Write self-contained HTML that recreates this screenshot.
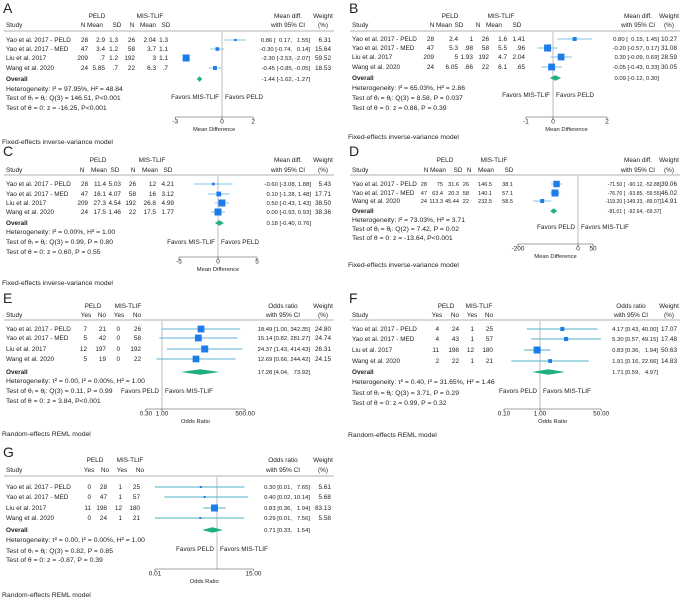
<!DOCTYPE html>
<html><head><meta charset="utf-8"><style>
body{margin:0;background:#fff}
svg{display:block;font-family:"Liberation Sans",Arial,sans-serif}
text{font-size:6.4px;fill:#222}
</style></head><body>
<svg id="fig" width="692" height="599" viewBox="0 0 692 599"></svg>
<script>
// ---------- DATA ----------
const studies4 = ["Yao et al. 2017 - PELD","Yao et al. 2017 - MED","Liu et al. 2017","Wang et al. 2020"];
const studiesD = ["Yao et al. 2017 - PELD","Yao et al. 2017 - MED","Wang et al. 2020"];

const tableA = [["28","2.9","1.3","26","2.04","1.3"],["47","3.4","1.2","58","3.7","1.1"],["209",".7","1.2","192","3","1.1"],["24","5.85",".7","22","6.3",".7"]];
const estA = [0.86,-0.30,-2.30,-0.45];
const loA = [0.17,-0.74,-2.53,-0.85];
const hiA = [1.55,0.14,-2.07,-0.05];
const wA = [6.31,15.64,59.52,18.53];
const overallA = [-1.44,-1.62,-1.27];
const statsA = ["Heterogeneity: I\u00B2 = 97.95%, H\u00B2 = 48.84","Test of \u03B8\u1D62 = \u03B8\u2C7C: Q(3) = 146.51, P<0.001","Test of \u03B8 = 0: z = -16.25, P<0.001"];
const ticksA = [-3,0,2];

const tableB = [["28","2.4","1","26","1.6","1.41"],["47","5.3",".98","58","5.5",".96"],["209","5","1.93","192","4.7","2.04"],["24","6.05",".66","22","6.1",".65"]];
const estB = [0.80,-0.20,0.30,-0.05];
const loB = [0.15,-0.57,-0.09,-0.43];
const hiB = [1.45,0.17,0.69,0.33];
const wB = [10.27,31.08,28.59,30.05];
const overallB = [0.09,-0.12,0.30];
const statsB = ["Heterogeneity: I\u00B2 = 65.03%, H\u00B2 = 2.86","Test of \u03B8\u1D62 = \u03B8\u2C7C: Q(3) = 8.58, P = 0.037","Test of \u03B8 = 0: z = 0.86, P = 0.39"];
const ticksB = [-1,0,2];

const tableC = [["28","11.4","5.03","26","12","4.21"],["47","16.1","4.07","58","16","3.12"],["209","27.3","4.54","192","26.8","4.99"],["24","17.5","1.46","22","17.5","1.77"]];
const estC = [-0.60,0.10,0.50,0.00];
const loC = [-3.08,-1.28,-0.43,-0.93];
const hiC = [1.88,1.48,1.43,0.93];
const wC = [5.43,17.71,38.50,38.36];
const overallC = [0.18,-0.40,0.76];
const statsC = ["Heterogeneity: I\u00B2 = 0.00%, H\u00B2 = 1.00","Test of \u03B8\u1D62 = \u03B8\u2C7C: Q(3) = 0.99, P = 0.80","Test of \u03B8 = 0: z = 0.60, P = 0.55"];
const ticksC = [-5,0,5];

const tableD = [["28","75","31.6","26","146.5","38.1"],["47","63.4","20.3","58","140.1","57.1"],["24","113.3","45.44","22","232.5","58.5"]];
const estD = [-71.50,-76.70,-119.20];
const loD = [-90.12,-93.85,-149.33];
const hiD = [-52.88,-59.55,-89.07];
const wD = [39.06,46.02,14.91];
const overallD = [-81.01,-92.64,-69.37];
const statsD = ["Heterogeneity: I\u00B2 = 73.03%, H\u00B2 = 3.71","Test of \u03B8\u1D62 = \u03B8\u2C7C: Q(2) = 7.42, P = 0.02","Test of \u03B8 = 0: z = -13.64, P<0.001"];
const ticksD = [-200,0,50];

const tableE = [["7","21","0","26"],["5","42","0","58"],["12","197","0","192"],["5","19","0","22"]];
const estE = [18.49,15.14,24.37,12.69];
const loE = [1.00,0.82,1.43,0.66];
const hiE = [342.35,281.27,414.43,244.42];
const wE = [24.80,24.74,26.31,24.15];
const overallE = [17.28,4.04,73.92];
const statsE = ["Heterogeneity: \u03C4\u00B2 = 0.00, I\u00B2 = 0.00%, H\u00B2 = 1.00","Test of \u03B8\u1D62 = \u03B8\u2C7C: Q(3) = 0.11, P = 0.99","Test of \u03B8 = 0: z = 3.84, P<0.001"];
const ticksE = [0.30,1.00,500.00];

const tableF = [["4","24","1","25"],["4","43","1","57"],["11","198","12","180"],["2","22","1","21"]];
const estF = [4.17,5.30,0.83,1.91];
const loF = [0.43,0.57,0.36,0.16];
const hiF = [40.00,49.15,1.94,22.66];
const wF = [17.07,17.48,50.63,14.83];
const overallF = [1.71,0.59,4.97];
const statsF = ["Heterogeneity: \u03C4\u00B2 = 0.40, I\u00B2 = 31.65%, H\u00B2 = 1.46","Test of \u03B8\u1D62 = \u03B8\u2C7C: Q(3) = 3.71, P = 0.29","Test of \u03B8 = 0: z = 0.99, P = 0.32"];
const ticksF = [0.10,1.00,50.00];

const tableG = [["0","28","1","25"],["0","47","1","57"],["11","198","12","180"],["0","24","1","21"]];
const estG = [0.30,0.40,0.83,0.29];
const loG = [0.01,0.02,0.36,0.01];
const hiG = [7.65,10.14,1.94,7.56];
const wG = [5.61,5.68,83.13,5.58];
const overallG = [0.71,0.33,1.54];
const statsG = ["Heterogeneity: \u03C4\u00B2 = 0.00, I\u00B2 = 0.00%, H\u00B2 = 1.00","Test of \u03B8\u1D62 = \u03B8\u2C7C: Q(3) = 0.82, P = 0.85","Test of \u03B8 = 0: z = -0.87, P = 0.39"];
const ticksG = [0.01,15.00];

// ---------- DRAWING ----------
const NS = "http://www.w3.org/2000/svg";
const svg = document.getElementById("fig");
function mk(tag, attrs, parent, txt){
  const e = document.createElementNS(NS, tag);
  for (const k in attrs) e.setAttribute(k, attrs[k]);
  if (txt !== undefined) e.textContent = txt;
  (parent || svg).appendChild(e);
  return e;
}
function txt(g, x, y, s, anchor, extra){
  const a = {x:x, y:y+2.2, "text-anchor":anchor||"start"};
  if (extra) Object.assign(a, extra);
  return mk("text", a, g, s);
}
function f2(v){ return v.toFixed(2); }
const FS = "\u2007";
function pad(s, n){ while (s.length < n) s = FS + s; return s; }

function panel(cfg){
  const g = mk("g", {transform:`translate(${cfg.ox},${cfg.oy})`});
  
  
  const X = cfg.log ? (v => cfg.zero + Math.log10(v)*cfg.k) : (v => cfg.zero + v*cfg.k);
  const ciStyle = {style:`font-size:${cfg.ciFont}px`, "xml:space":"preserve"};
  const tStyle = cfg.tableFont ? {style:`font-size:${cfg.tableFont}px`} : undefined;
  const allLo = cfg.lo.concat([cfg.overall[1]]).map(f2), allHi = cfg.hi.concat([cfg.overall[2]]).map(f2);
  const mL = Math.max(...allLo.map(s=>s.length)), mH = Math.max(...allHi.map(s=>s.length));
  const ciStr = (e,l,h) => `${f2(e)} [${pad(f2(l),mL)}, ${pad(f2(h),mH)}]`;

  const lt = mk("text", {x:3, y:cfg.letterY+5, style:"font-size:14px"}, g, cfg.letter);
  
  

  // headers
  txt(g, cfg.grp[0], cfg.hdr1, "PELD", "middle");
  txt(g, cfg.grp[1], cfg.hdr1, "MIS-TLIF", "middle");
  txt(g, 6, cfg.hdr2, "Study");
  cfg.hdrCols.forEach((cx,i)=> txt(g, cx, cfg.hdr2, cfg.colNames[i], "middle"));
  txt(g, cfg.ciHdr, cfg.hdr1, cfg.log ? "Odds ratio" : "Mean diff.", "middle");
  txt(g, cfg.ciHdr, cfg.hdr2, "with 95% CI", "middle");
  txt(g, 323, cfg.hdr1, "Weight", "middle");
  txt(g, 323, cfg.hdr2, "(%)", "middle");
  const hl = mk("line", {x1:4, x2:334, y1:cfg.line, y2:cfg.line, stroke:"#999", "stroke-width":0.7}, g);
  
  

  // reference line
  const ref = mk("line", {x1:X(cfg.log?1:0), x2:X(cfg.log?1:0), y1:cfg.line+1, y2:cfg.axisY, stroke:"#c8c8c8", "stroke-width":1.2}, g);
  
  

  const maxW = Math.max(...cfg.w);
  cfg.studies.forEach((s,i)=>{
    const y = cfg.rows[i];
    const row = mk("g", {}, g);
    
    
    txt(row, 6, y, s);
    cfg.table[i].forEach((v,j)=> txt(row, cfg.cols[j], y, v, "end", tStyle));
    const ci = mk("line", {x1:X(cfg.lo[i]), x2:X(cfg.hi[i]), y1:y, y2:y, stroke:cfg.ciColor, "stroke-width":0.9}, row);
    
    
    const sz = Math.max(2, Math.sqrt(cfg.w[i]/maxW)*7);
    const sq = mk("rect", {x:X(cfg.est[i])-sz/2, y:y-sz/2, width:sz, height:sz, fill:"#1e7ce8"}, row);
    
    
    txt(row, cfg.ciRight, y, ciStr(cfg.est[i], cfg.lo[i], cfg.hi[i]), "end", ciStyle);
    txt(row, 331, y, f2(cfg.w[i]), "end");
  });

  // overall
  const oy = cfg.overallY;
  txt(g, 6, oy, "Overall", "start", {"font-weight":"bold"});
  const d = mk("polygon", {points:`${X(cfg.overall[1])},${oy} ${X(cfg.overall[0])},${oy-2.8} ${X(cfg.overall[2])},${oy} ${X(cfg.overall[0])},${oy+2.8}`, fill:"#20b07c"}, g);
  
  
  txt(g, cfg.ciRight, oy, ciStr(cfg.overall[0], cfg.overall[1], cfg.overall[2]), "end", ciStyle);
  cfg.stats.forEach((s,i)=> txt(g, 6, cfg.statsY[i], s, "start", {style:"font-size:6.8px"}));

  // favors
  const zx = X(cfg.log?1:0);
  txt(g, zx-3, cfg.favY, cfg.fav[0], "end");
  txt(g, zx+3, cfg.favY, cfg.fav[1], "start");

  // axis
  const ax = mk("g", {}, g);
  
  
  const t0 = cfg.ticks[0], t1 = cfg.ticks[cfg.ticks.length-1];
  mk("line", {x1:X(t0), x2:X(t1), y1:cfg.axisY, y2:cfg.axisY, stroke:"#444", "stroke-width":0.6}, ax);
  cfg.ticks.forEach(t=>{
    mk("line", {x1:X(t), x2:X(t), y1:cfg.axisY, y2:cfg.axisY+2, stroke:"#444", "stroke-width":0.6}, ax);
    txt(ax, X(t), cfg.axisY+4.5, cfg.log ? t.toFixed(2) : String(t), "middle");
  });
  const at = txt(ax, (X(t0)+X(t1))/2, cfg.axisY+12, cfg.log ? "Odds Ratio" : "Mean Difference", "middle", {style:"font-size:5.8px"});
  
  

  txt(g, 2, cfg.modelY, cfg.model, "start", {style:"font-size:6.8px"});
}

const mdCols = ["N","Mean","SD","N","Mean","SD"];
const orCols = ["Yes","No","Yes","No"];
const FE = "Fixed-effects inverse-variance model", RE = "Random-effects REML model";

panel({ox:0, oy:0, letter:"A", letterY:8, hdr1:16, hdr2:25, line:31, rows:[40,49,58,68], overallY:79, statsY:[89,98,108], favY:97, axisY:117, modelY:142,
  cols:[88,105,118,135,156,168], hdrCols:[83,95,117,132,148,166], colNames:mdCols, grp:[97,150], zero:222, k:15.6, log:false, ticks:ticksA, ciRight:310, ciHdr:288, ciFont:5.9,
  studies:studies4, table:tableA, est:estA, lo:loA, hi:hiA, w:wA, overall:overallA, stats:statsA, fav:["Favors MIS-TLIF","Favors PELD"], ciColor:"#7cc3ec", model:FE});

panel({ox:346, oy:0, letter:"B", letterY:8, hdr1:16, hdr2:25, line:31, rows:[39,48,57,67], overallY:78, statsY:[88,98,108], favY:95, axisY:117, modelY:137,
  cols:[88,112,127,143,161,179], hdrCols:[86,98,113,132,148,171], colNames:mdCols, grp:[104,155], zero:207, k:27, log:false, ticks:ticksB, ciRight:313, ciHdr:292, ciFont:5.9,
  studies:studies4, table:tableB, est:estB, lo:loB, hi:hiB, w:wB, overall:overallB, stats:statsB, fav:["Favors MIS-TLIF","Favors PELD"], ciColor:"#7cc3ec", model:FE});

panel({ox:0, oy:0, letter:"C", letterY:151, hdr1:160, hdr2:170, line:175, rows:[184,194,203,212], overallY:223, statsY:[232,242,252], favY:242, axisY:257, modelY:283,
  cols:[88,106,121,136,156,174], hdrCols:[82,99,115,133,150,168], colNames:mdCols, grp:[98,152], zero:218, k:7.8, log:false, ticks:ticksC, ciRight:311, ciHdr:288, ciFont:5.9,
  studies:studies4, table:tableC, est:estC, lo:loC, hi:hiC, w:wC, overall:overallC, stats:statsC, fav:["Favors MIS-TLIF","Favors PELD"], ciColor:"#7cc3ec", model:FE});

panel({ox:346, oy:0, letter:"D", letterY:151, hdr1:160, hdr2:170, line:175, rows:[184,193,201], overallY:211, statsY:[220,229,238], favY:227, axisY:244, modelY:265,
  cols:[81,97,113,123,146,167], hdrCols:[80,92,112,123,140,163], colNames:mdCols, grp:[99,148], zero:232, k:0.3, log:false, ticks:ticksD, ciRight:315, ciHdr:292, ciFont:5.1, tableFont:5.6,
  studies:studiesD, table:tableD, est:estD, lo:loD, hi:hiD, w:wD, overall:overallD, stats:statsD, fav:["Favors PELD","Favors MIS-TLIF"], ciColor:"#7cc3ec", model:FE});

panel({ox:0, oy:0, letter:"E", letterY:298, hdr1:306, hdr2:315, line:320, rows:[329,338,349,359], overallY:372, statsY:[381,391,401], favY:391, axisY:409, modelY:434,
  cols:[87,106,120,141], hdrCols:[86,102,119,137], colNames:orCols, grp:[93,128], zero:162, k:30.8, log:true, ticks:ticksE, ciRight:310, ciHdr:283, ciFont:5.9,
  studies:studies4, table:tableE, est:estE, lo:loE, hi:hiE, w:wE, overall:overallE, stats:statsE, fav:["Favors PELD","Favors MIS-TLIF"], ciColor:"#5fb2d8", model:RE});

panel({ox:346, oy:0, letter:"F", letterY:298, hdr1:306, hdr2:315, line:320, rows:[329,339,350,361], overallY:372, statsY:[382,393,403], favY:391, axisY:409, modelY:435,
  cols:[93,113,128,147], hdrCols:[91,109,126,143], colNames:orCols, grp:[100,133], zero:194, k:36, log:true, ticks:ticksF, ciRight:312, ciHdr:285, ciFont:5.9,
  studies:studies4, table:tableF, est:estF, lo:loF, hi:hiF, w:wF, overall:overallF, stats:statsF, fav:["Favors PELD","Favors MIS-TLIF"], ciColor:"#4fb0c6", model:RE});

panel({ox:0, oy:0, letter:"G", letterY:452, hdr1:460, hdr2:470, line:476, rows:[487,497,508,518], overallY:530, statsY:[540,551,560], favY:549, axisY:569, modelY:595,
  cols:[91,107,122,140], hdrCols:[89,105,122,140], colNames:orCols, grp:[95,130], zero:217, k:31, log:true, ticks:ticksG, ciRight:310, ciHdr:283, ciFont:5.9,
  studies:studies4, table:tableG, est:estG, lo:loG, hi:hiG, w:wG, overall:overallG, stats:statsG, fav:["Favors PELD","Favors MIS-TLIF"], ciColor:"#4fb0c6", model:RE});
</script>
</body></html>
